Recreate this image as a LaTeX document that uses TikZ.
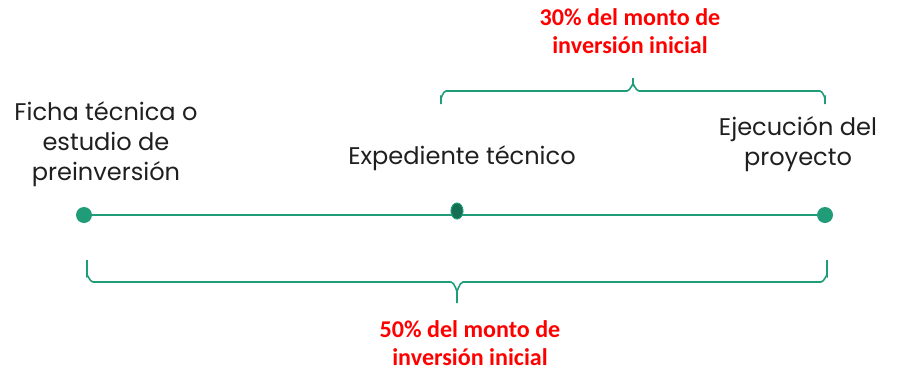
\documentclass[tikz,border=0pt]{standalone}
\usepackage{fontspec}
\setmainfont{Poppins}
\newfontfamily\notefont{Carlito}
\usetikzlibrary{shapes.geometric}
\definecolor{linegreen}{RGB}{32,157,120}
\definecolor{darkgreen}{RGB}{20,110,82}
\definecolor{notered}{RGB}{255,0,0}

\begin{document}
\begin{tikzpicture}[x=0.02cm,y=-0.02cm]
\useasboundingbox (0,0) rectangle (909,370);

\begin{scope}[every node/.style={circle,fill=linegreen,inner sep=0pt,minimum size=0.32cm}]
    \node (P) at (84,215) {};
    \node (X) at (825,215) {};
\end{scope}

\path [draw=linegreen,line width=1.4pt] (P) edge (X);
\node [ellipse,fill=darkgreen,draw=linegreen,line width=0.6pt,inner sep=0pt,
       minimum width=0.24cm,minimum height=0.32cm] (M) at (457,211) {};

\begin{scope}[every node/.style={align=center,text=black!88,
              font=\fontsize{13.7}{17}\selectfont}]
    \node (L) at (106,144) {Ficha técnica o\\estudio de\\preinversión};
    \node (C) at (462,158) {Expediente técnico};
    \node (R) at (798,144) {Ejecución del\\proyecto};
\end{scope}

\begin{scope}[every node/.style={align=center,text=notered,
              font=\notefont\bfseries\fontsize{13.7}{16}\selectfont}]
    \node (T) at (630,31) {30\% del monto de\\inversión inicial};
    \node (B) at (470,343) {50\% del monto de\\inversión inicial};
\end{scope}

% braces
\coordinate (T1) at (441,104);
\coordinate (T2) at (825,104);
\coordinate (B1) at (87,260);
\coordinate (B2) at (827,260);
\begin{scope}[draw=linegreen,line width=0.9pt]
    \draw [linegreen] (T1) -- (441,97) to[out=-90,in=180] (446,91) -- (627,91)
        to[out=0,in=90] (633,85) -- (633,78) (633,85) to[out=90,in=180] (639,91)
        -- (820,91) to[out=0,in=-90] (T2 |- 0,97) -- (T2);
    \draw [linegreen] (B1) -- (87,276) to[out=90,in=180] (93,282) -- (451,282)
        to[out=0,in=-90] (457,290) -- (457,303) (457,290) to[out=-90,in=180] (463,282)
        -- (821,282) to[out=0,in=90] (B2 |- 0,276) -- (B2);
\end{scope}
\end{tikzpicture}
\end{document}
